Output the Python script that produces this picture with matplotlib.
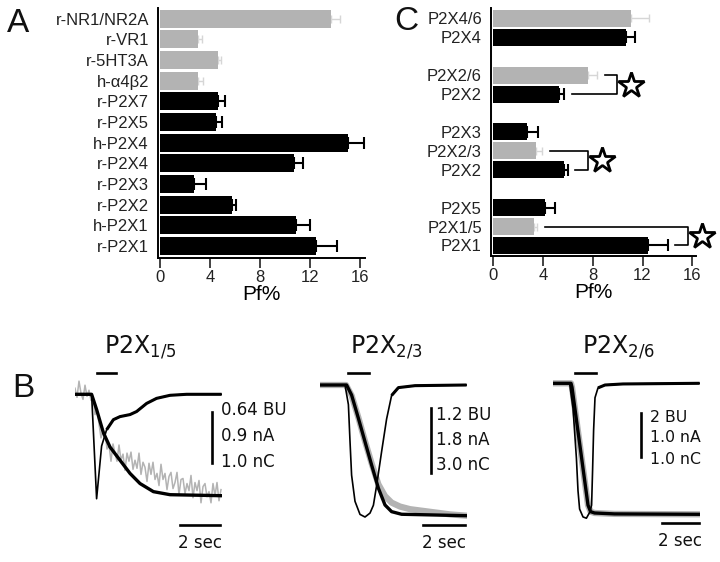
import numpy as np
import matplotlib.pyplot as plt

plt.rcParams['font.family'] = ['Liberation Sans', 'DejaVu Sans']

# ---- panel A: Pf% of different receptors
a_labels = ['r-NR1/NR2A', 'r-VR1', 'r-5HT3A', 'h-α4β2', 'r-P2X7', 'r-P2X5',
            'h-P2X4', 'r-P2X4', 'r-P2X3', 'r-P2X2', 'h-P2X1', 'r-P2X1']
a_pf = [13.7, 3.05, 4.6, 3.05, 4.6, 4.45, 15.0, 10.75, 2.75, 5.73, 10.85, 12.48]
a_err = [0.7, 0.3, 0.3, 0.4, 0.6, 0.5, 1.3, 0.7, 0.9, 0.35, 1.15, 1.65]
a_gray = [True, True, True, True, False, False, False, False, False, False, False, False]

# ---- panel C: heteromers vs homomers (groups top to bottom)
c_groups = [['P2X4/6', 'P2X4'], ['P2X2/6', 'P2X2'], ['P2X3', 'P2X2/3', 'P2X2'],
            ['P2X5', 'P2X1/5', 'P2X1']]
c_pf = [11.04, 10.7, 7.6, 5.3, 2.7, 3.4, 5.7, 4.2, 3.3, 12.43]
c_err = [1.5, 0.7, 0.75, 0.4, 0.9, 0.5, 0.3, 0.8, 0.2, 1.6]
c_gray = [True, False, True, False, False, True, False, False, True, False]
c_sig = [(2, 3), (5, 6), (8, 9)]   # pairs marked with a star

# ---- panel B: traces (time in s, signal normalised to full deflection)
b1_cur_t = [0, 0.83, 1.08, 1.33, 1.58, 1.92, 2.25, 2.75, 3.08, 3.58, 4.08, 4.75, 5.58, 7.33]
b1_cur_v = [0, 0, -1.03, -0.51, -0.35, -0.25, -0.22, -0.2, -0.17, -0.09, -0.04, -0.01, 0, 0]
b1_chg_t = [0, 0.83, 1.08, 1.42, 1.75, 2.25, 2.75, 3.25, 3.92, 4.75, 7.33]
b1_chg_v = [0, 0, -0.15, -0.38, -0.52, -0.65, -0.78, -0.88, -0.96, -0.99, -1.0]
# fura-2 signal, one reading every 0.1 s
b1_fl_v = [0.06, -0.03, 0.13, 0.01, -0.05, 0.09, -0.02, 0.04, -0.06, -0.02,
           -0.20, -0.15, -0.29, -0.43, -0.36, -0.37, -0.54, -0.50, -0.66, -0.49,
           -0.58, -0.66, -0.50, -0.65, -0.59, -0.75, -0.58, -0.66, -0.57, -0.74,
           -0.65, -0.73, -0.58, -0.79, -0.67, -0.72, -0.86, -0.68, -0.79, -0.67,
           -0.84, -0.78, -0.90, -0.69, -0.84, -0.78, -0.94, -0.81, -0.77, -0.93,
           -0.87, -0.77, -0.99, -0.84, -0.83, -0.98, -0.88, -0.95, -0.80, -1.02,
           -0.87, -0.95, -0.85, -1.07, -0.91, -0.88, -1.01, -0.96, -1.07, -0.88,
           -1.00, -0.87, -1.05, -0.94]

b2_cur_t = [0, 1.25, 1.42, 1.5, 1.58, 1.75, 2.0, 2.25, 2.5, 2.67, 2.83, 3.08, 3.33,
            3.58, 3.92, 4.75, 7.33]
b2_cur_v = [0, 0, -0.15, -0.43, -0.69, -0.89, -0.99, -1.01, -0.98, -0.92, -0.77,
            -0.51, -0.26, -0.08, -0.02, -0.005, 0]
b2_chg_t = [0, 1.33, 1.58, 1.92, 2.25, 2.58, 2.92, 3.25, 3.58, 4.08, 7.33]
b2_chg_v = [0, 0, -0.077, -0.255, -0.434, -0.612, -0.79, -0.918, -0.969, -0.989, -1.0]
b2_fl_t = [0, 1.3, 1.58, 1.92, 2.25, 2.58, 2.92, 3.25, 3.58, 4.0, 4.5, 5.5, 6.5, 7.33]
b2_fl_v = [0, 0, -0.08, -0.25, -0.43, -0.6, -0.76, -0.85, -0.9, -0.93, -0.95, -0.97,
           -0.99, -1.0]

b3_cur_t = [0, 0.83, 1.0, 1.17, 1.25, 1.33, 1.5, 1.67, 1.85, 1.93, 1.98, 2.03, 2.1,
            2.25, 2.6, 3.5, 7.33]
b3_cur_v = [0, 0, -0.19, -0.57, -0.82, -0.96, -1.02, -1.03, -0.98, -0.93, -0.66,
            -0.36, -0.11, -0.035, -0.013, -0.005, 0]
b3_chg_t = [0, 0.9, 0.95, 1.75, 1.88, 2.08, 3.08, 7.33]
b3_chg_v = [0, 0, -0.03, -0.93, -0.98, -0.99, -0.997, -1.0]

W, H = 720, 562
fig = plt.figure(figsize=(7.2, 5.62), dpi=100)


def rect(x0, y0, x1, y1):
    # pixel box (top-left origin) -> figure fraction
    return [x0 / W, 1 - y1 / H, (x1 - x0) / W, (y1 - y0) / H]


ov = fig.add_axes([0, 0, 1, 1])
ov.set_xlim(0, W)
ov.set_ylim(H, 0)
ov.axis('off')

gray = '#b3b3b3'


def style_bar_axes(ax):
    for s in ['top', 'right']:
        ax.spines[s].set_visible(False)
    ax.spines['left'].set_linewidth(1.4)
    ax.spines['bottom'].set_linewidth(1.4)
    ax.set_xticks([0, 4, 8, 12, 16])
    ax.tick_params(axis='x', length=7, width=1.2, pad=2, labelsize=12, colors='#222222')
    ax.tick_params(axis='y', length=0, pad=6.5, labelsize=12, colors='#222222')
    ax.set_xlabel('Pf%', fontsize=15, labelpad=0)


def draw_bars(ax, pos, vals, errs, grays, h):
    for p, v, e, g in zip(pos, vals, errs, grays):
        ax.barh(p, v, height=h, color=gray if g else 'black', zorder=2)
        ax.errorbar(v, p, xerr=[[0], [e]], fmt='none', zorder=1,
                    ecolor='#d6d6d6' if g else 'black', elinewidth=1.0 if g else 1.5,
                    capsize=3 if g else 4, capthick=1.0 if g else 1.5)


# panel A
axA = fig.add_axes(rect(158, 8, 365, 258))
posA = np.arange(len(a_labels))[::-1]
draw_bars(axA, posA, a_pf, a_err, a_gray, 0.87)
axA.set_yticks(posA)
axA.set_yticklabels(a_labels)
axA.set_xlim(-0.16, 16.4)
axA.set_ylim(-0.58, 11.51)
style_bar_axes(axA)

# panel C
axC = fig.add_axes(rect(491, 8, 696, 256))
c_labels = [n for g in c_groups for n in g]
posC = []
slot = 0
for g in c_groups[::-1]:
    posC = list(range(slot, slot + len(g)))[::-1] + posC
    slot += len(g) + 1
draw_bars(axC, posC, c_pf, c_err, c_gray, 0.9)
axC.set_yticks(posC)
axC.set_yticklabels(c_labels)
axC.set_xlim(-0.18, 16.3)
axC.set_ylim(-0.555, 12.55)
style_bar_axes(axC)

for i, j in c_sig:
    ei = c_pf[i] + c_err[i]
    ej = c_pf[j] + c_err[j]
    xr = max(ei, ej) + 1.6
    axC.plot([ei + 0.65, xr, xr, ej + 0.6], [posC[i], posC[i], posC[j], posC[j]],
             color='black', lw=1.2, clip_on=False, zorder=3)
    axC.plot(xr + 1.15, (posC[i] + posC[j]) / 2, marker='*', ms=19, mfc='white',
             mec='black', mew=2, clip_on=False, zorder=3)

# panel letters
ov.text(7, 32, 'A', fontsize=24, color='#111111')
ov.text(394, 30, 'C', fontsize=24, color='#111111')
ov.text(12, 397, 'B', fontsize=24, color='#111111')

# panel B traces
b_left = [75, 320, 553]
b_base = [394.3, 385, 383.3]
b_gain = [101.4, 130.7, 131]
b_tail = [1.5, 3.5, 2.25]   # slow part of the current drawn heavier
traces = [
    (np.arange(len(b1_fl_v)) * 0.1, b1_fl_v, b1_cur_t, b1_cur_v, b1_chg_t, b1_chg_v),
    (b2_fl_t, b2_fl_v, b2_cur_t, b2_cur_v, b2_chg_t, b2_chg_v),
    (b3_chg_t, b3_chg_v, b3_cur_t, b3_cur_v, b3_chg_t, b3_chg_v),
]
for k, (ft, fv, ct, cv, qt, qv) in enumerate(traces):
    ax = fig.add_axes(rect(b_left[k], 365, b_left[k] + 147, 550))
    ax.axis('off')
    ax.set_xlim(0, 7.35)
    ax.set_ylim(-(550 - b_base[k]) / b_gain[k], (b_base[k] - 365) / b_gain[k])
    ax.plot(ft, fv, color=gray, lw=1.1 if k == 0 else 4.5, solid_joinstyle='round')
    ct = np.array(ct)
    cv = np.array(cv)
    ax.plot(ct, cv, color='black', lw=1.2)
    m = ct >= b_tail[k]
    ax.plot(ct[m], cv[m], color='black', lw=2.2, solid_capstyle='butt')
    ax.plot(qt, qv, color='black', lw=2.4)

titles = [r'P2X$_{\mathregular{1/5}}$', r'P2X$_{\mathregular{2/3}}$', r'P2X$_{\mathregular{2/6}}$']
title_x = [104, 350, 582]
for x, t in zip(title_x, titles):
    ov.text(x, 353, t, fontsize=17, family='DejaVu Sans', color='#111111')

# agonist application bars
for x0, x1 in [(97, 116), (348, 369), (575, 596)]:
    ov.plot([x0, x1], [372.5, 372.5], color='black', lw=1.9)

# scale bars
scale_txt = [['0.64 BU', '0.9 nA', '1.0 nC'], ['1.2 BU', '1.8 nA', '3.0 nC'],
             ['2 BU', '1.0 nA', '1.0 nC']]
vbars = [(212, 412, 463), (431, 408, 473), (641, 413, 457)]
txt_x = [221, 436, 650]
txt_y = [[410, 436, 462], [415, 440, 465], [417, 437, 459]]
txt_fs = [12, 12, 11.3]
for k in range(3):
    x, y0, y1 = vbars[k]
    ov.plot([x, x], [y0, y1], color='black', lw=1.9)
    for s, y in zip(scale_txt[k], txt_y[k]):
        ov.text(txt_x[k], y, s, fontsize=txt_fs[k], family='DejaVu Sans',
                va='center', ha='left', color='#111111')
for x0, x1, y in [(180, 220, 525), (423, 465, 525), (662, 699, 523)]:
    ov.plot([x0, x1], [y, y], color='black', lw=1.9)
    ov.text((x0 + x1) / 2, y + 18, '2 sec', fontsize=12, family='DejaVu Sans',
            ha='center', va='center', color='#111111')

fig.savefig('out.png', dpi=100)
